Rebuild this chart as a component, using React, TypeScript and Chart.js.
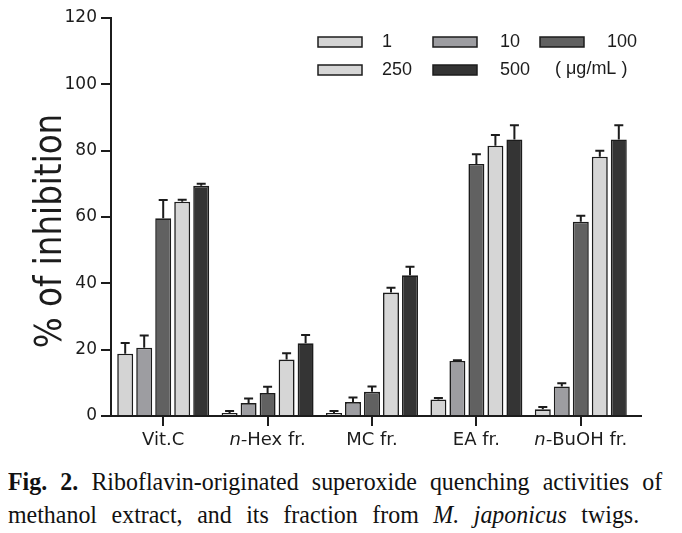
import React, { useEffect, useRef } from "react";
import { Chart, registerables } from "chart.js";

Chart.register(...registerables);

const categories = ["Vit.C", "n-Hex fr.", "MC fr.", "EA fr.", "n-BuOH fr."];
const concLabels = ["1", "10", "100", "250", "500"];
const unitLabel = "( μg/mL )";
const yTitle = "% of inhibition";
const yTicks = [0, 20, 40, 60, 80, 100, 120];

const s1 = [18.8, 0.9, 0.9, 5.0, 2.0];
const e1 = [3.2, 0.6, 0.6, 0.4, 0.7];
const s10 = [20.6, 3.9, 4.2, 16.6, 8.9];
const e10 = [3.7, 1.4, 1.4, 0.2, 1.0];
const s100 = [59.6, 6.9, 7.3, 76.0, 58.6];
const e100 = [5.5, 1.9, 1.6, 2.9, 1.8];
const s250 = [64.6, 17.0, 37.2, 81.5, 78.2];
const e250 = [0.6, 1.9, 1.5, 3.2, 1.8];
const s500 = [69.4, 21.9, 42.4, 83.4, 83.4];
const e500 = [0.6, 2.5, 2.6, 4.3, 4.3];

const seriesValues = [s1, s10, s100, s250, s500];
const seriesErrors = [e1, e10, e100, e250, e500];
const seriesColors = ["#d4d4d4", "#9d9da1", "#616161", "#d6d6d6", "#343434"];

const INK = "#1c1c1c";

const errorBarPlugin = {
  id: "errorBars",
  afterDatasetsDraw(chart: any) {
    const ctx = chart.ctx;
    const yScale = chart.scales.y;
    ctx.save();
    ctx.strokeStyle = INK;
    ctx.lineWidth = 2;
    chart.data.datasets.forEach((ds: any, di: number) => {
      const meta = chart.getDatasetMeta(di);
      meta.data.forEach((bar: any, i: number) => {
        const err = ds.errors[i];
        const v = ds.data[i];
        const top = yScale.getPixelForValue(v + err);
        ctx.beginPath();
        ctx.moveTo(bar.x, bar.y);
        ctx.lineTo(bar.x, top);
        ctx.moveTo(bar.x - 4.5, top);
        ctx.lineTo(bar.x + 4.5, top);
        ctx.stroke();
      });
    });
    ctx.restore();
  },
};

const decorPlugin = {
  id: "decor",
  afterDraw(chart: any) {
    const ctx = chart.ctx;
    const area = chart.chartArea;
    const xScale = chart.scales.x;
    ctx.save();
    // extend x axis line
    ctx.strokeStyle = INK;
    ctx.lineWidth = 2;
    ctx.beginPath();
    ctx.moveTo(area.right - 1, area.bottom);
    ctx.lineTo(area.right + 9, area.bottom);
    ctx.stroke();

    // x labels with italic prefix
    ctx.fillStyle = INK;
    ctx.textBaseline = "middle";
    const normal = "18px 'DejaVu Sans'";
    const italic = "italic 18px 'DejaVu Sans'";
    categories.forEach((lab, i) => {
      const cx = xScale.getPixelForTick(i);
      let pre = "";
      let rest = lab;
      if (lab.startsWith("n-")) {
        pre = "n-";
        rest = lab.slice(2);
      }
      ctx.font = italic;
      const wp = pre ? ctx.measureText(pre).width : 0;
      ctx.font = normal;
      const wr = ctx.measureText(rest).width;
      let x = cx - (wp + wr) / 2;
      ctx.textAlign = "left";
      if (pre) {
        ctx.font = italic;
        ctx.fillText(pre, x, 440);
        x += wp;
      }
      ctx.font = normal;
      ctx.fillText(rest, x, 440);
    });

    // y title
    ctx.save();
    ctx.translate(61, 231);
    ctx.rotate(-Math.PI / 2);
    ctx.scale(0.88, 1);
    ctx.font = "37px 'DejaVu Sans'";
    ctx.textAlign = "center";
    ctx.textBaseline = "alphabetic";
    ctx.fillText(yTitle, 0, 0);
    ctx.restore();

    // legend
    const boxX = [318, 433, 540, 318, 433];
    const boxY = [42, 42, 42, 70, 70];
    const textX = [382, 500, 607, 382, 500];
    ctx.font = "18px 'Liberation Sans'";
    ctx.textAlign = "left";
    ctx.textBaseline = "middle";
    chart.data.datasets.forEach((ds: any, i: number) => {
      ctx.fillStyle = ds.backgroundColor;
      ctx.fillRect(boxX[i], boxY[i] - 5, 44, 10);
      ctx.strokeStyle = INK;
      ctx.lineWidth = 1.5;
      ctx.strokeRect(boxX[i], boxY[i] - 5, 44, 10);
      ctx.fillStyle = INK;
      ctx.fillText(ds.label, textX[i], boxY[i]);
    });
    ctx.fillText(unitLabel, 555, 69);
    ctx.restore();
  },
};

export default function App() {
  const ref = useRef<HTMLCanvasElement>(null);
  useEffect(() => {
    if (!ref.current) return;
    const chart = new Chart(ref.current, {
      type: "bar",
      data: {
        labels: categories,
        datasets: seriesValues.map((vals, i) => ({
          label: concLabels[i],
          data: vals,
          errors: seriesErrors[i],
          backgroundColor: seriesColors[i],
          borderColor: INK,
          borderWidth: 1.6,
          categoryPercentage: 0.91,
          barPercentage: 0.84,
        })) as any,
      },
      options: {
        responsive: false,
        animation: false,
        devicePixelRatio: 1,
        layout: { padding: { left: 0, top: 18, right: 49, bottom: 0 } },
        plugins: {
          legend: { display: false },
          tooltip: { enabled: false },
          title: { display: false },
        },
        scales: {
          x: {
            type: "category",
            offset: true,
            grid: {
              offset: false,
              drawOnChartArea: false,
              drawTicks: true,
              tickLength: 10,
              color: INK,
              lineWidth: 2,
            },
            border: { color: INK, width: 2 },
            ticks: { color: "rgba(0,0,0,0)", font: { size: 18 } },
            afterFit: (s: any) => {
              s.height = 39;
            },
          },
          y: {
            min: 0,
            max: 120,
            afterBuildTicks: (s: any) => {
              s.ticks = yTicks.map((v) => ({ value: v }));
            },
            grid: {
              drawOnChartArea: false,
              drawTicks: true,
              tickLength: 10,
              color: INK,
              lineWidth: 2,
            },
            border: { color: INK, width: 2 },
            ticks: {
              color: INK,
              padding: 4,
              font: { family: "'DejaVu Sans'", size: 17 },
            },
            afterFit: (s: any) => {
              s.width = 111;
            },
          },
        },
      },
      plugins: [errorBarPlugin, decorPlugin],
    });
    return () => chart.destroy();
  }, []);

  const capStyle: React.CSSProperties = {
    fontFamily: "'Liberation Serif', 'Times New Roman', serif",
    fontSize: 26,
    lineHeight: "33px",
    color: "#111",
    transform: "scaleX(0.92)",
    transformOrigin: "0 0",
  };

  return (
    <div style={{ width: 682, height: 533, background: "#fff", position: "relative", overflow: "hidden" }}>
      <style>{`body{margin:0}`}</style>
      <canvas ref={ref} width={682} height={455} style={{ display: "block" }} />
      <div style={{ position: "absolute", left: 8, top: 465, width: 711, ...capStyle }}>
        <div style={{ textAlign: "justify", textAlignLast: "justify", whiteSpace: "nowrap" as any }}>
          <b>Fig. 2.</b> Riboflavin-originated superoxide quenching activities of
        </div>
        <div style={{ width: 686, textAlign: "justify", textAlignLast: "justify", whiteSpace: "nowrap" as any }}>
          methanol extract, and its fraction from <i>M. japonicus</i> twigs.
        </div>
      </div>
    </div>
  );
}
